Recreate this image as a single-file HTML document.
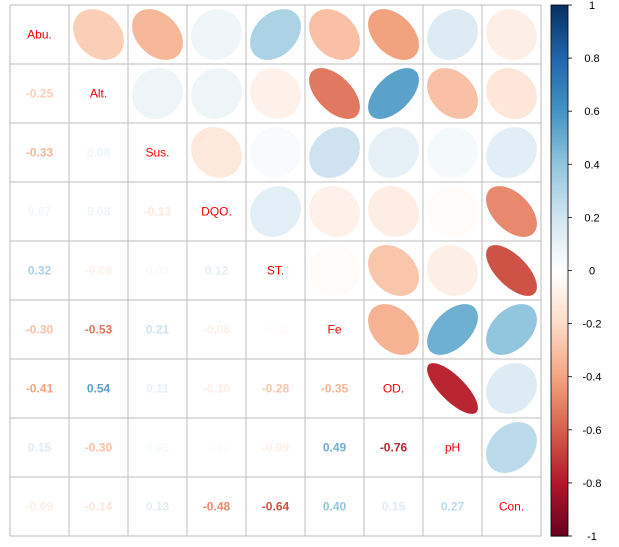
<!DOCTYPE html>
<html><head><meta charset="utf-8"><style>
body{margin:0;background:#fff;}
svg{display:block;font-family:"Liberation Sans",Arial,sans-serif;}
</style></head><body>
<svg id="chart" width="619" height="547" viewBox="0 0 619 547"></svg>
<script>
const vars = ["Abu.","Alt.","Sus.","DQO.","ST.","Fe","OD.","pH","Con."];
const lowerRows = [
 [],
 [-0.25],
 [-0.33,0.08],
 [0.07,0.08,-0.13],
 [0.32,-0.08,0.03,0.12],
 [-0.30,-0.53,0.21,-0.08,-0.02],
 [-0.41,0.54,0.11,-0.10,-0.28,-0.35],
 [0.15,-0.30,0.05,-0.02,-0.09,0.49,-0.76],
 [-0.09,-0.14,0.13,-0.48,-0.64,0.40,0.15,0.27]
];
const barTicks = [1,0.8,0.6,0.4,0.2,0,-0.2,-0.4,-0.6,-0.8,-1];

const NS="http://www.w3.org/2000/svg";
const svg=document.getElementById('chart');
const X0=10,Y0=5,CW=59,N=vars.length;
const pal=["#67001F","#B2182B","#D6604D","#F4A582","#FDDBC7","#FFFFFF","#D1E5F0","#92C5DE","#4393C3","#2166AC","#053061"];
function hex(h){return [1,3,5].map(i=>parseInt(h.substr(i,2),16));}
function col(r){
  let t=(r+1)/2*(pal.length-1);let i=Math.min(Math.floor(t),pal.length-2);let f=t-i;
  const a=hex(pal[i]),b=hex(pal[i+1]);
  return "rgb("+a.map((v,k)=>Math.round(v+(b[k]-v)*f)).join(",")+")";
}
function el(tag,attrs){const e=document.createElementNS(NS,tag);for(const k in attrs)e.setAttribute(k,attrs[k]);svg.appendChild(e);return e;}
function corr(i,j){if(i===j)return 1;return i>j?lowerRows[i][j]:lowerRows[j][i];}

for(let i=0;i<N;i++)for(let j=0;j<N;j++){
  const cx=X0+j*CW+CW/2, cy=Y0+i*CW+CW/2, r=corr(i,j);
  if(i===j){
    const t=el('text',{x:cx,y:cy+4,'text-anchor':'middle','font-size':12,fill:'#FF0000'});
    t.textContent=vars[i];
    
    
  } else if(i>j){
    const t=el('text',{x:cx,y:cy+4,'text-anchor':'middle','font-size':12,'font-weight':'bold',fill:col(r)});
    t.textContent=r.toFixed(2);
    
    
  } else {
    const d=Math.acos(r),s=25.4;let pts=[];
    for(let k=0;k<100;k++){const a=k/100*2*Math.PI;pts.push((cx+Math.cos(a+d/2)*s).toFixed(2)+","+(cy-Math.cos(a-d/2)*s).toFixed(2));}
    const p=el('polygon',{points:pts.join(" "),fill:col(r)});
    
    
  }
}
for(let k=0;k<=N;k++){
  const g1=el('line',{x1:X0+k*CW,y1:Y0,x2:X0+k*CW,y2:Y0+N*CW,stroke:'#BEBEBE','stroke-width':1});
  
  
  const g2=el('line',{x1:X0,y1:Y0+k*CW,x2:X0+N*CW,y2:Y0+k*CW,stroke:'#BEBEBE','stroke-width':1});
  
  
}
// colorbar
const BX=551,BW=17,BT=5,BB=536;
const steps=200,sh=(BB-BT)/steps;
for(let k=0;k<steps;k++){
  const v=1-(k+0.5)/steps*2;
  const rc=el('rect',{x:BX,y:BT+k*sh,width:BW,height:sh+0.6,fill:col(v)});
  
  
}
const fr=el('rect',{x:BX,y:BT,width:BW,height:BB-BT,fill:'none',stroke:'#000','stroke-width':0.8});


barTicks.forEach(v=>{
  const y=BT+(1-v)/2*(BB-BT);
  const tl=el('line',{x1:BX+BW,y1:y,x2:BX+BW+4,y2:y,stroke:'#000','stroke-width':0.8});
  
  
  const t=el('text',{x:592,y:y+4,'text-anchor':'middle','font-size':11,fill:'#000'});
  t.textContent=String(v);
  
  
});
</script>
</body></html>
